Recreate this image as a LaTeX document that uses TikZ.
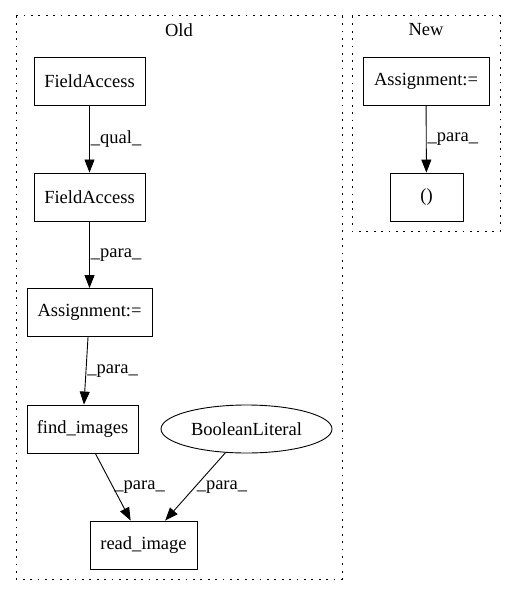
\documentclass[tikz,border=0pt]{standalone}
\usepackage{fontspec}
\setmainfont{Liberation Serif}
\usetikzlibrary{arrows.meta,shapes.geometric}
\begin{document}
\begin{tikzpicture}[x=1pt,y=1pt,
  every node/.style={font=\fontsize{18.5}{20}\selectfont},
  box/.style={draw,line width=0.9pt,rectangle,minimum height=48pt,inner sep=0pt},
  oval/.style={draw,line width=0.9pt,ellipse,minimum height=48pt,inner sep=0pt},
  cluster/.style={draw,line width=1pt,dash pattern=on 1.8pt off 5.6pt},
  conn/.style={draw,line width=0.9pt,-{Triangle[length=13pt,width=10pt]}},
  elabel/.style={anchor=west,inner sep=1pt}]
\useasboundingbox (0,0) rectangle (516,-596);
\path[cluster] (16,-16) rectangle (342,-579);
\path[cluster] (352,-16) rectangle (500,-231);
\node (old) at (179,-30) {Old};
\node (new) at (426,-30) {New};
\node[box,minimum width=111pt] (fa1) at (89.5,-81) {FieldAccess};
\node[box,minimum width=111pt] (fa2) at (89.5,-197) {FieldAccess};
\node[box,minimum width=125pt] (asg) at (89.5,-312.5) {Assignment:=};
\node[box,minimum width=111pt] (find) at (82.5,-429) {find\_images};
\node[oval,minimum width=171pt] (bool) at (246.5,-429) {BooleanLiteral};
\node[box,minimum width=107pt] (read) at (143.5,-545) {read\_image};
\node[box,minimum width=126pt] (nasg) at (426,-81) {Assignment:=};
\node[box,minimum width=73pt] (par) at (426.5,-197) {()};
\draw[conn] (fa1) -- node[elabel] {\_qual\_} (fa2);
\draw[conn] (fa2) -- node[elabel] {\_para\_} (asg);
\draw[conn] (asg) -- node[elabel] {\_para\_} (find);
\draw[conn] (find) -- node[elabel] {\_para\_} (read);
\draw[conn] (bool) -- node[elabel] {\_para\_} (read);
\draw[conn] (nasg) -- node[elabel] {\_para\_} (par);
\end{tikzpicture}
\end{document}
